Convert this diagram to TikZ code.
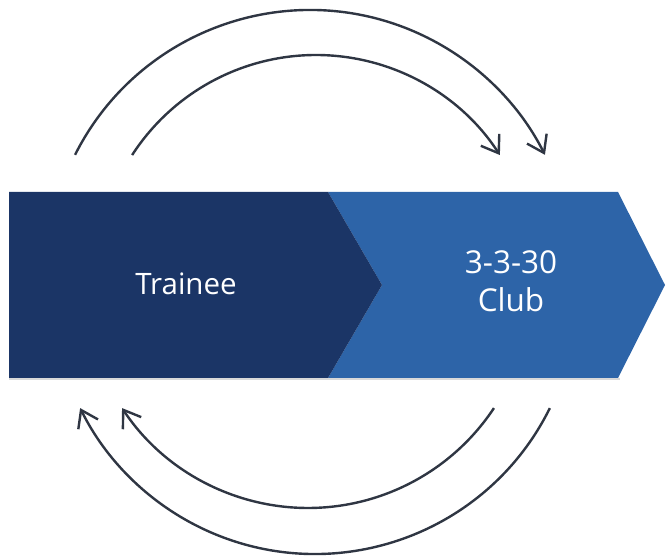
\documentclass[tikz,border=0pt]{standalone}
\usepackage{fontspec}
\setmainfont{Open Sans}
\usetikzlibrary{arrows.meta}
\definecolor{darkblue}{HTML}{1B3566}
\definecolor{lightblue}{HTML}{2D64A8}
\definecolor{arcgray}{HTML}{2F3643}
\begin{document}
\begin{tikzpicture}[x=1pt,y=1pt,
  cyclearc/.style={draw=arcgray,line width=2.4pt,-{Straight Barb[length=16pt,width=22pt,line width=2.4pt]}},
  label/.style={text=white,align=center}]
\useasboundingbox (0,0) rectangle (666,556);
% shadows
\fill[gray!30] (9,175.5) -- (620,175.5) -- (620,178) -- (9,178) -- cycle;
% chevrons
\fill[lightblue] (328,364) -- (618,364) -- (665,271) -- (618,178) -- (328,178) -- (382,271) -- cycle;
\fill[darkblue] (9,364) -- (328,364) -- (382,271) -- (328,178) -- (9,178) -- cycle;
\node[label,font=\fontsize{29.5}{38}\selectfont] (trainee) at (186,272) {Trainee};
\node[label,font=\fontsize{31.5}{38}\selectfont] (club) at (511,275) {3-3-30\\Club};
% arcs
\coordinate (c1) at (310,283);
\coordinate (c2) at (316,282);
\coordinate (c3) at (315,264);
\coordinate (c4) at (308,271);
\draw[cyclearc] ([shift={(153.3:263)}]c1) arc[start angle=153.3,end angle=26.7,radius=263];
\draw[cyclearc] ([shift={(147.1:219)}]c2) arc[start angle=147.1,end angle=32.9,radius=219];
\draw[cyclearc] ([shift={(-26.3:262)}]c3) arc[start angle=-26.3,end angle=-153.7,radius=262];
\draw[cyclearc] ([shift={(-33.5:223)}]c4) arc[start angle=-33.5,end angle=-146.5,radius=223];
\end{tikzpicture}
\end{document}
